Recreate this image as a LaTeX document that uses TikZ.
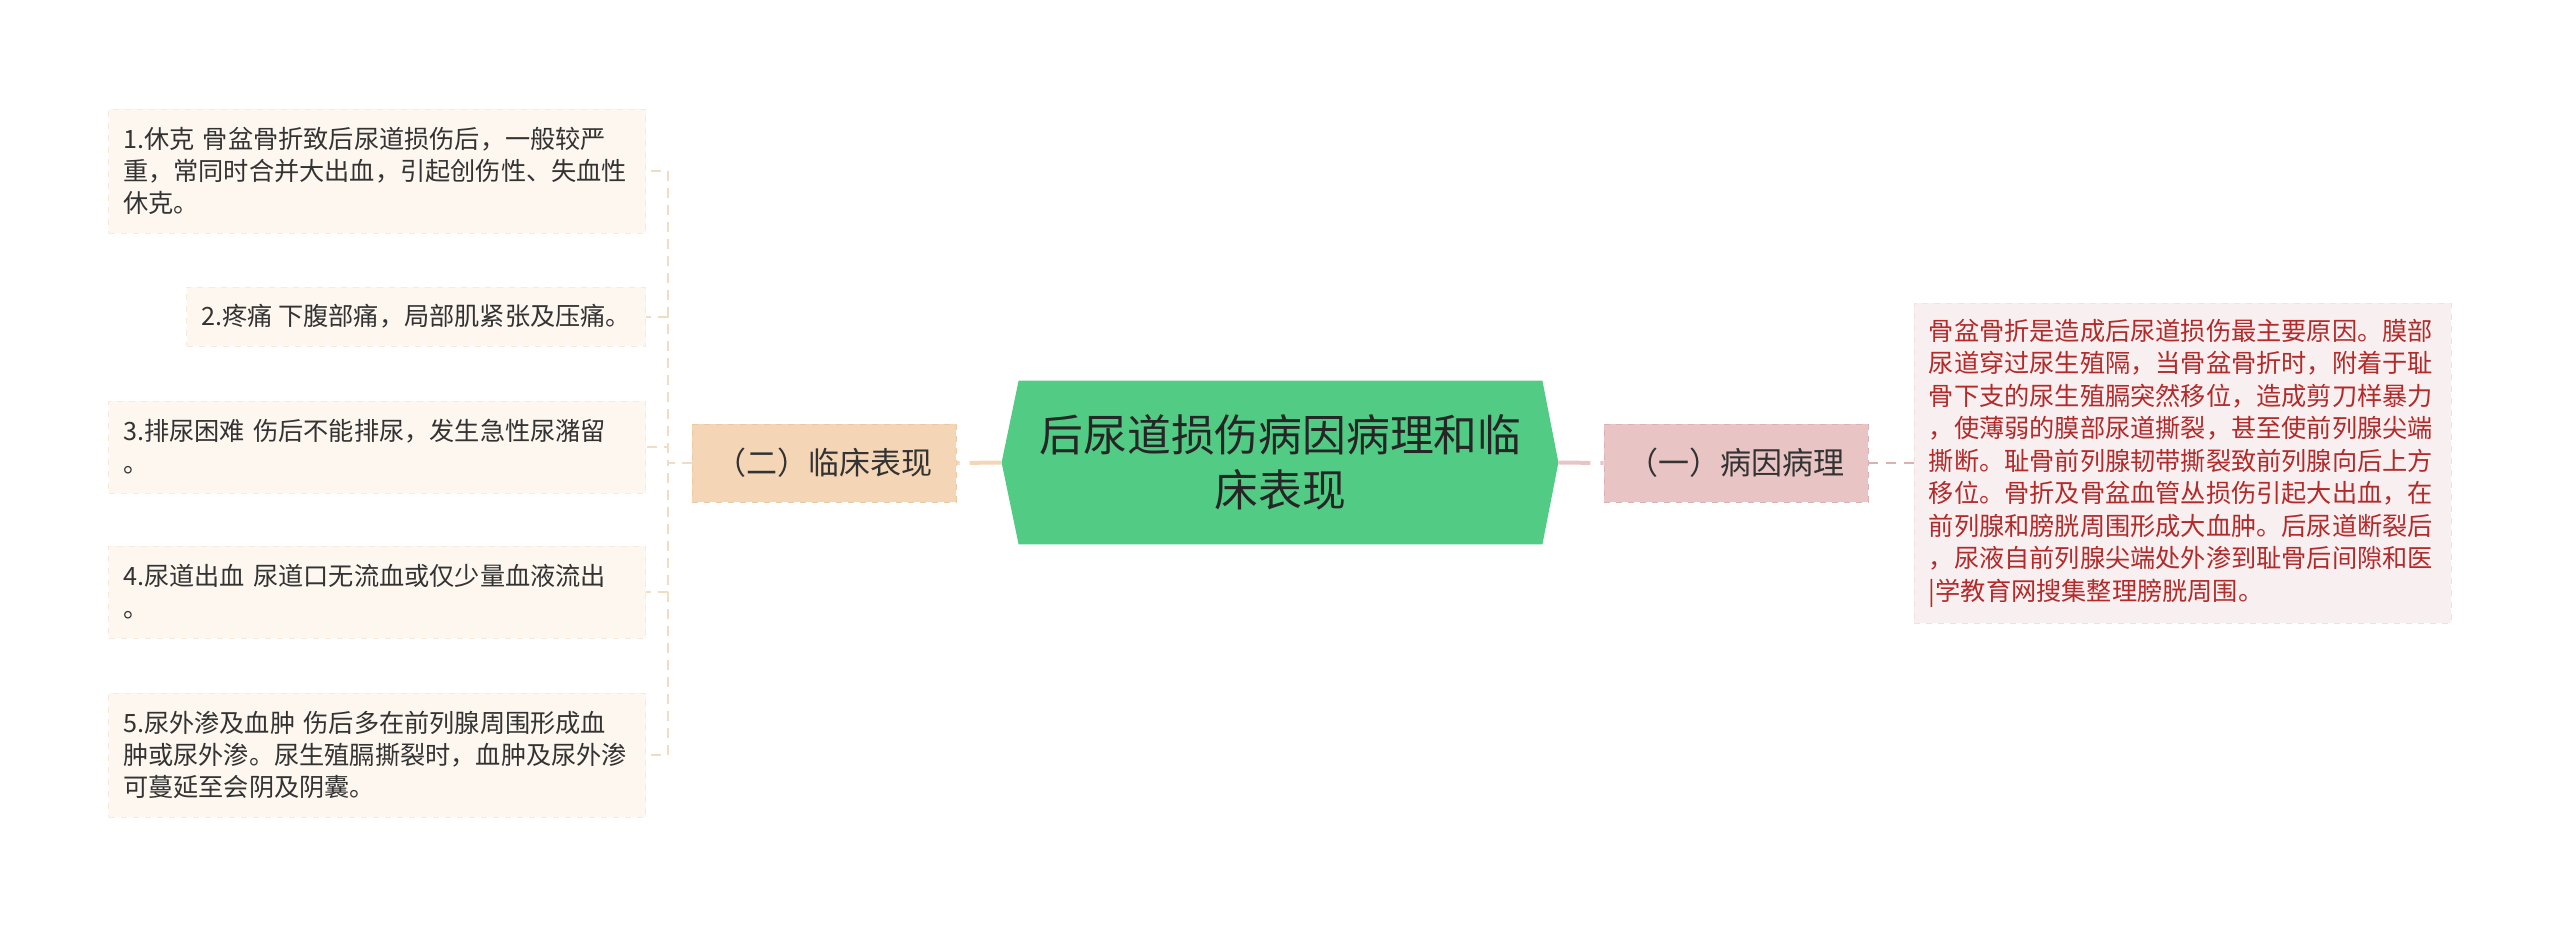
\documentclass[tikz,border=0pt]{standalone}
\usepackage{fontspec}
\setmainfont{Noto Sans CJK SC}
\usetikzlibrary{calc, positioning, backgrounds}
\definecolor{leaffill}{HTML}{FDF7F0}
\definecolor{leafline}{HTML}{F6EADC}
\definecolor{leaftext}{HTML}{333333}
\definecolor{twofill}{HTML}{F4D6B6}
\definecolor{twoline}{HTML}{EAC8A4}
\definecolor{onefill}{HTML}{E9C4C4}
\definecolor{oneline}{HTML}{DCB1B1}
\definecolor{rootfill}{HTML}{52CC84}
\definecolor{notefill}{HTML}{F8F0F0}
\definecolor{noteline}{HTML}{F0E2E2}
\definecolor{notetext}{HTML}{B22A2A}
\tikzset{
    leaf/.style={draw=leafline, dashed, fill=leaffill, text=leaftext, anchor=east,
        font=\fontsize{12.6}{16}\selectfont, inner xsep=7.25pt, inner ysep=0pt, align=left},
    wideleaf/.style={leaf, text width=254pt},
    branch/.style={dashed, minimum width=132pt, minimum height=39pt, inner sep=0pt,
        text=leaftext, font=\fontsize{15.5}{18}\selectfont},
    root/.style={minimum width=261.5pt, minimum height=81.5pt, inner sep=0pt, align=center,
        text=black!85, font=\fontsize{21.9}{27.5}\selectfont},
    note/.style={draw=noteline, dashed, fill=notefill, text=notetext, text width=254pt,
        inner xsep=7.25pt, minimum height=160pt, align=left,
        font=\fontsize{12.6}{16.25}\selectfont},
    leaflink/.style={draw=leafline!60!twoline, line width=1pt, dash pattern=on 5pt off 3.5pt},
    twolink/.style={draw=twofill, line width=2pt, dash pattern=on 16pt off 5pt},
    onelink/.style={draw=onefill, line width=2pt, dash pattern=on 16pt off 5pt},
    notelink/.style={draw=oneline, line width=1pt, dash pattern=on 5pt off 4pt} }

\begin{document}
\begin{tikzpicture}[x=0.5pt, y=-0.5pt]
			\useasboundingbox (0,0) rectangle (2560,926);
			\node[root] (root) at (1280.5,462.5) {后尿道损伤病因病理和临\\床表现};
			\coordinate (rootW) at ($(root.west)+(-17,0)$);
			\coordinate (rootE) at ($(root.east)+(16,0)$);
			\node[branch, fill=twofill, draw=twoline] (two) at (824,463) {（二）临床表现};
			\node[branch, fill=onefill, draw=oneline] (one) at (1736,463) {（一）病因病理};
			% ----
			\node[wideleaf, minimum height=62pt] (c1) at (646,171)
				{1.休克 骨盆骨折致后尿道损伤后，一般较严\\重，常同时合并大出血，引起创伤性、失血性\\休克。};
			\node[leaf, minimum height=29.5pt] (c2) at (646,316.5)
				{2.疼痛 下腹部痛，局部肌紧张及压痛。};
			\node[wideleaf, minimum height=46pt] (c3) at (646,447)
				{3.排尿困难 伤后不能排尿，发生急性尿潴留\\。};
			\node[wideleaf, minimum height=46pt] (c4) at (646,592)
				{4.尿道出血 尿道口无流血或仅少量血液流出\\。};
			\node[wideleaf, minimum height=62pt] (c5) at (646,755)
				{5.尿外渗及血肿 伤后多在前列腺周围形成血\\肿或尿外渗。尿生殖膈撕裂时，血肿及尿外渗\\可蔓延至会阴及阴囊。};
			\node[note, anchor=west] (note) at (1914,463)
				{骨盆骨折是造成后尿道损伤最主要原因。膜部\\尿道穿过尿生殖隔，当骨盆骨折时，附着于耻\\骨下支的尿生殖膈突然移位，造成剪刀样暴力\\，使薄弱的膜部尿道撕裂，甚至使前列腺尖端\\撕断。耻骨前列腺韧带撕裂致前列腺向后上方\\移位。骨折及骨盆血管丛损伤引起大出血，在\\前列腺和膀胱周围形成大血肿。后尿道断裂后\\，尿液自前列腺尖端处外渗到耻骨后间隙和医\\|学教育网搜集整理膀胱周围。};
			% ----
			\begin{pgfonlayer}{background}
			\path[fill=rootfill]
			(root.north west) -- (root.north east) -- (rootE) --
			(root.south east) -- (root.south west) -- (rootW) -- cycle;
			\end{pgfonlayer}
			% ----
			\draw[twolink] (rootW) -- (two.east);
			\draw[onelink] (rootE) -- (one.west);
			\draw[notelink] (one.east) -- (note.west);
			\foreach \n in {c1,c2,c3,c4,c5}
				\draw[leaflink] (two.west) -- ++(-24,0) |- (\n.east);
		\end{tikzpicture}
\end{document}
